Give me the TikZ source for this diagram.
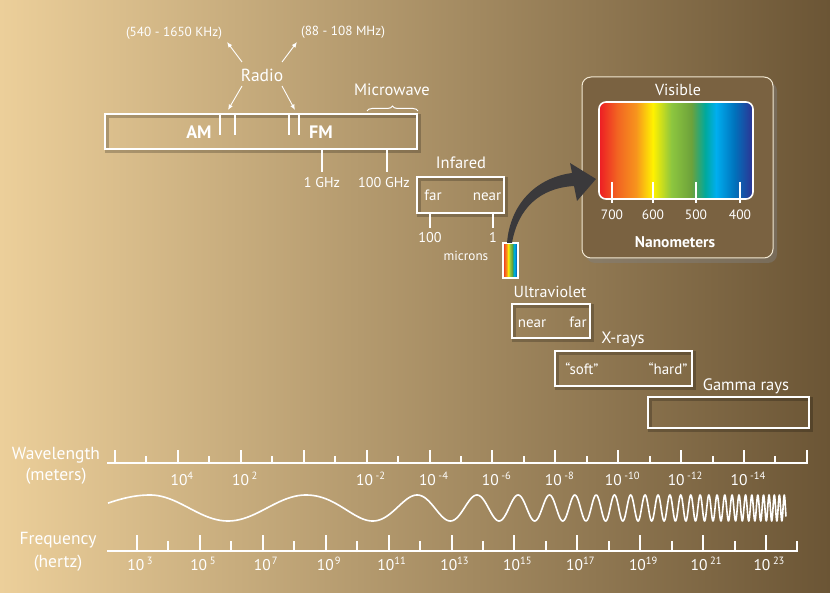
\documentclass[tikz,border=0pt]{standalone}
\usepackage{fontspec}
\setmainfont{PT Sans}
\usetikzlibrary{arrows.meta,decorations.pathreplacing,shadows}
\definecolor{bgL}{HTML}{ECCF9A}
\definecolor{bgR}{HTML}{6B5535}
\definecolor{visfill}{HTML}{7A6241}
\definecolor{visborder}{HTML}{F2E8D2}
\definecolor{arrowdark}{HTML}{3A393B}
\definecolor{spA}{HTML}{ED1C24}
\definecolor{spB}{HTML}{F26522}
\definecolor{spC}{HTML}{F7941D}
\definecolor{spD}{HTML}{FFF200}
\definecolor{spE}{HTML}{8DC63F}
\definecolor{spF}{HTML}{6DA23B}
\definecolor{spG}{HTML}{00A99D}
\definecolor{spH}{HTML}{00AEEF}
\definecolor{spI}{HTML}{0072BC}
\definecolor{spJ}{HTML}{2E3192}
\pgfdeclarehorizontalshading{spectrum}{100bp}{color(0bp)=(spA); color(25bp)=(spA); color(31bp)=(spB); color(37bp)=(spC); color(42.5bp)=(spD); color(48.5bp)=(spE); color(55bp)=(spF); color(59.5bp)=(spG); color(63bp)=(spH); color(69bp)=(spI); color(75bp)=(spJ); color(100bp)=(spJ)}
\newcommand{\tp}[2]{10#1\raisebox{6pt}{\fontsize{10.5}{11}\selectfont #2}}
\begin{document}
\begin{tikzpicture}[x=1pt,y=-1pt,
  lbl/.style={text=white, inner sep=0pt, outer sep=0pt, text height=11.5pt, text depth=0pt, font=\fontsize{16.5}{19}\selectfont},
  big/.style={lbl, text height=12.2pt, font=\fontsize{17.5}{20}\selectfont},
  sml/.style={lbl, text height=10.5pt, font=\fontsize{15}{17}\selectfont},
  num/.style={lbl, text height=10pt, font=\fontsize{14.2}{17}\selectfont},
  tiny/.style={lbl, text height=9.2pt, font=\fontsize{13.2}{15}\selectfont},
  axlbl/.style={lbl, text height=10.8pt, font=\fontsize{15.5}{18}\selectfont},
  boldlbl/.style={lbl, text height=12.6pt, font=\fontsize{18}{20}\selectfont\bfseries},
  wbox/.style={draw=white, line width=2.3pt, inner sep=0pt, outer sep=0pt, anchor=north west,
    preaction={draw=black, draw opacity=0.22, line width=4.5pt, transform canvas={shift={(1.8pt,-1.8pt)}}}},
  tk/.style={draw=white, line width=2pt},
  rarrow/.style={draw=white, line width=0.9pt, -{Latex[length=5.5pt,width=4.5pt]}},
  wave/.style={draw=white, line width=1.6pt, line join=round},
  declare function={ph(\t)=(\t<150) ? 0.009*(\t-150) : ((\t<306) ? (\t-150)/78 : 2+0.154*(exp(0.0075*\t)-9.92));}
]
\useasboundingbox (0,0) rectangle (830,593);
\shade[left color=bgL, right color=bgR] (0,0) rectangle (830,593);

% ---------- Radio / Microwave ----------
\node[wbox, minimum width=312pt, minimum height=35pt] (radiobox) at (105,114) {};
\foreach \xx in {220,235,289,299} \draw[tk] (\xx,114) -- (\xx,135);
\node[boldlbl] (am) at (199,132) {AM};
\node[boldlbl] (fm) at (321,132) {FM};
\node[big] (radio) at (262,75) {Radio};
\node[tiny] (amrange) at (174,32) {(540 - 1650 KHz)};
\node[tiny] (fmrange) at (343,31) {(88 - 108 MHz)};
\coordinate (amtop) at (227,42);
\coordinate (fmtop) at (297,42);
\coordinate (amtick) at (228,110);
\coordinate (fmtick) at (295,110);
\draw[rarrow] ([xshift=-20pt,yshift=13pt]radio.center) -- (amtop);
\draw[rarrow] ([xshift=20pt,yshift=13pt]radio.center) -- (fmtop);
\draw[rarrow] ([xshift=-20pt,yshift=-11pt]radio.center) -- (amtick);
\draw[rarrow] ([xshift=20pt,yshift=-11pt]radio.center) -- (fmtick);
\node[lbl] (micro) at (392,90) {Microwave};
\draw[draw=white, line width=1pt, decorate, decoration={brace, amplitude=5pt}] (367,111) -- (418,111);
\draw[tk] (322,149) -- (322,172);
\draw[tk] (387,149) -- (387,172);
\node[num] (ghz1) at (322,183) {1 GHz};
\node[num] (ghz100) at (384,183) {100 GHz};

% ---------- Infrared ----------
\node[wbox, minimum width=87pt, minimum height=36pt] (irbox) at (417,177) {};
\node[lbl] (ir) at (461,163) {Infared};
\node[sml] (irfar) at (433,195) {far};
\node[sml] (irnear) at (487,195) {near};
\draw[tk] (430,213) -- (430,228);
\draw[tk] (493,213) -- (493,228);
\node[num] (ir100) at (430,238) {100};
\node[num] (ir1) at (493,238) {1};
\node[tiny] (microns) at (466,256) {microns};
\node[shade, shading=spectrum, draw=white, line width=1.2pt, inner sep=0pt, outer sep=0pt, anchor=north west, minimum width=15pt, minimum height=35pt] (mini) at (503,243) {};

% ---------- Visible ----------
\node[draw=visborder, line width=1pt, fill=visfill, rounded corners=9pt, inner sep=0pt, outer sep=0pt, anchor=north west,
  minimum width=191pt, minimum height=181pt, drop shadow={shadow xshift=4pt, shadow yshift=-5pt, opacity=0.45}] (visbox) at (582,77) {};
\node[lbl, font=\fontsize{16}{19}\selectfont] (vis) at (678,90) {Visible};
\node[shade, shading=spectrum, draw=white, line width=1.6pt, rounded corners=7pt, inner sep=0pt, outer sep=0pt, anchor=north west,
  minimum width=154pt, minimum height=97pt] (spec) at (599,102) {};
\foreach \xx/\nm in {612/700,653/600,696/500,740/400}{
  \draw[draw=white, line width=2.4pt] (\xx,182) -- (\xx,203);
  \node[num, font=\fontsize{13.5}{16}\selectfont] (nm\nm) at (\xx,215) {\nm};
}
\node[sml, font=\fontsize{15.5}{18}\selectfont\bfseries] (nano) at (675,242) {Nanometers};

% curved arrow from mini spectrum to visible box
\fill[arrowdark] (507,243) .. controls (510,205) and (535,178) .. (572,173)
  -- (570,163) -- (596,179) -- (577,201) -- (574,186)
  .. controls (540,188) and (518,208) .. (512,243) -- cycle;

% ---------- UV, X-rays, Gamma ----------
\node[wbox, minimum width=78pt, minimum height=34pt] (uvbox) at (512,304) {};
\node[lbl, font=\fontsize{16}{19}\selectfont] (uv) at (550,292) {Ultraviolet};
\node[sml] (uvnear) at (532,322) {near};
\node[sml] (uvfar) at (578,322) {far};
\node[wbox, minimum width=137pt, minimum height=35pt] (xbox) at (555,351) {};
\node[lbl] (xr) at (623,338) {X-rays};
\node[sml] (soft) at (582,369) {“soft”};
\node[sml] (hard) at (668,369) {“hard”};
\node[wbox, minimum width=161pt, minimum height=31pt] (gbox) at (648,397) {};
\node[lbl] (gamma) at (746,385) {Gamma rays};

% ---------- Wavelength axis ----------
\node[big] (wl1) at (56,453) {Wavelength};
\node[big] (wl2) at (56,474) {(meters)};
\draw[tk] (107,463) -- (808,463);
\foreach \i in {0,...,11} \draw[tk] ({115+62.9*\i},464) -- ({115+62.9*\i},450);
\foreach \i in {0,...,10} \draw[tk] ({146.45+62.9*\i},464) -- ({146.45+62.9*\i},456);
\foreach \i/\e/\g in {1/4/{},2/2/{\,},4/-2/{\,},5/-4/{\,},6/-6/{\,},7/-8/{\,},8/-10/{\,},9/-12/{\,},10/-14/{\,}}
  \node[axlbl] (wlab\i) at ({119+62.9*\i},480) {\tp{\g}{\e}};

% ---------- Wave ----------
\draw[wave] plot[domain=108:600, samples=700] (\x, {508-13*cos(180*ph(\x))});
\draw[wave] plot[domain=600:786, samples=1000] (\x, {508-13*cos(180*ph(\x))});

% ---------- Frequency axis ----------
\node[big] (fq1) at (58,538) {Frequency};
\node[big] (fq2) at (58,561) {(hertz)};
\draw[tk] (107,551) -- (798,551);
\foreach \i in {0,...,10} \draw[tk] ({137+62.9*\i},552) -- ({137+62.9*\i},535);
\foreach \i in {0,...,10} \draw[tk] ({168.45+62.9*\i},552) -- ({168.45+62.9*\i},541);
\foreach \i/\e/\g in {0/3/{\,},1/5/{\,},2/7/{\kern1pt},3/9/{\kern1pt},4/11/{},5/13/{},6/15/{},7/17/{},8/19/{},9/21/{\,},10/23/{\,}}
  \node[axlbl] (flab\i) at ({140+62.9*\i},565) {\tp{\g}{\e}};
\end{tikzpicture}
\end{document}
